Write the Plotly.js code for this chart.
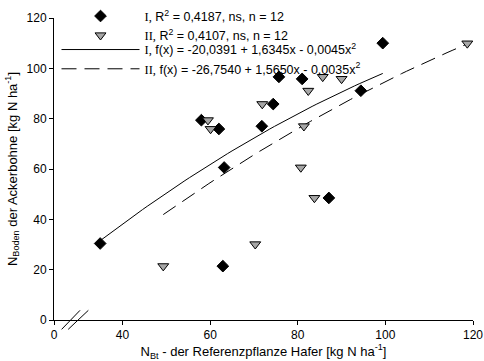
<!DOCTYPE html>
<html><head><meta charset="utf-8">
<script src="https://cdn.plot.ly/plotly-3.0.1.min.js"></script>
<style>html,body{margin:0;padding:0;background:#fff}#chart{width:484px;height:361px}</style>
</head><body><div id="chart"></div>
<script>
// Series I (diamonds)
const xI = [99.4, 75.7, 81.0, 74.4, 58.0, 62.0, 71.8, 94.4, 63.2, 34.9, 62.9, 87.1];
const yI = [110.0, 96.6, 95.8, 85.8, 79.4, 75.9, 77.0, 91.1, 60.6, 30.4, 21.4, 48.5];
// Series II (triangles)
const xII = [118.7, 85.7, 90.0, 82.4, 71.9, 59.5, 60.1, 81.4, 80.7, 49.3, 70.3, 83.8];
const yII = [109.9, 96.6, 95.8, 91.1, 85.8, 79.4, 75.9, 77.0, 60.6, 21.4, 30.1, 48.5];
// Regression coefficients as printed in the legend
const coefI = [-20.0391, 1.6345, -0.0045];
const coefII = [-26.7540, 1.5650, -0.0035];
// Axis
const xTickVals = [24.36, 40, 60, 80, 100, 120];
const xTickText = ['0', '40', '60', '80', '100', '120'];
const yTickVals = [0, 20, 40, 60, 80, 100, 120];

function curve(coef, xs) {
  const lo = Math.min(...xs), hi = Math.max(...xs);
  const X = [], Y = [];
  for (let i = 0; i <= 60; i++) {
    const x = lo + (hi - lo) * i / 60;
    X.push(x); Y.push(coef[0] + coef[1] * x + coef[2] * x * x);
  }
  return {X, Y};
}
const cI = curve(coefI, xI), cII = curve(coefII, xII);
const serif = s => '<span style="font-family:\'Liberation Serif\',\'Times New Roman\',serif">' + s + '</span>';

const traces = [
  {x: cI.X, y: cI.Y, mode: 'lines', line: {color: '#000', width: 1}, legendrank: 3, legend: 'legend2',
   name: serif('I,') + ' f(x) = -20,0391 + 1,6345x - 0,0045x<sup>2</sup>'},
  {x: cII.X, y: cII.Y, mode: 'lines', line: {color: '#000', width: 1, dash: '15px,8px'}, legendrank: 4, legend: 'legend2',
   name: serif('II,') + ' f(x) = -26,7540 + 1,5650x - 0,0035x<sup>2</sup>'},
  {x: xI, y: yI, mode: 'markers', legendrank: 1, legend: 'legend',
   marker: {symbol: 'diamond', size: 9, color: '#000', line: {color: '#000', width: 1}},
   name: serif('I,') + ' R<sup>2</sup> = 0,4187, ns, n = 12'},
  {x: xII, y: yII, mode: 'markers', legendrank: 2, legend: 'legend',
   marker: {symbol: 'triangle-down', size: 9.5, color: '#a6a6a6', line: {color: '#000', width: 1}},
   name: serif('II,') + ' R<sup>2</sup> = 0,4107, ns, n = 12'}
];

const axisFont = {family: 'Liberation Sans, Arial, sans-serif', size: 12, color: '#000'};
const legendBase = {x: 0.006, xanchor: 'left', yanchor: 'top', bgcolor: 'rgba(0,0,0,0)',
                    itemwidth: 78, tracegroupgap: 0, font: {size: 12.5, color: '#000'}};
const layout = {
  width: 484, height: 361,
  margin: {l: 54, r: 11, t: 18, b: 41, autoexpand: false},
  paper_bgcolor: '#fff', plot_bgcolor: '#fff',
  font: {family: 'Liberation Sans, Arial, sans-serif', size: 12, color: '#000'},
  showlegend: true,
  legend: Object.assign({}, legendBase, {y: 1.055}),
  legend2: Object.assign({}, legendBase, {y: 0.944}),
  xaxis: {range: [24.36, 120], tickmode: 'array', tickvals: xTickVals, ticktext: xTickText,
          showgrid: false, zeroline: false, showline: true, linecolor: '#000', linewidth: 1,
          ticks: 'outside', ticklen: 4, tickcolor: '#000', tickfont: axisFont, automargin: false,
          title: {text: 'N<sub>Bt</sub> - der Referenzpflanze Hafer [kg N ha<sup>-1</sup>]',
                  font: {size: 13, color: '#000'}, standoff: 2}},
  yaxis: {range: [0, 120], tickmode: 'array', tickvals: yTickVals,
          showgrid: false, zeroline: false, showline: true, linecolor: '#000', linewidth: 1,
          ticks: 'outside', ticklen: 4, tickcolor: '#000', tickfont: axisFont, automargin: false,
          title: {text: 'N<sub>Boden</sub> der Ackerbohne [kg N ha<sup>-1</sup>]',
                  font: {size: 13, color: '#000'}, standoff: 6}},
  shapes: [
    {type: 'line', xref: 'x', yref: 'paper', x0: 26.1, y0: -0.031, x1: 30.3, y1: 0.032, line: {color: '#000', width: 1}},
    {type: 'line', xref: 'x', yref: 'paper', x0: 27.6, y0: -0.031, x1: 32.2, y1: 0.032, line: {color: '#000', width: 1}}
  ]
};
Plotly.newPlot('chart', traces, layout, {displayModeBar: false, staticPlot: true});
</script></body></html>
